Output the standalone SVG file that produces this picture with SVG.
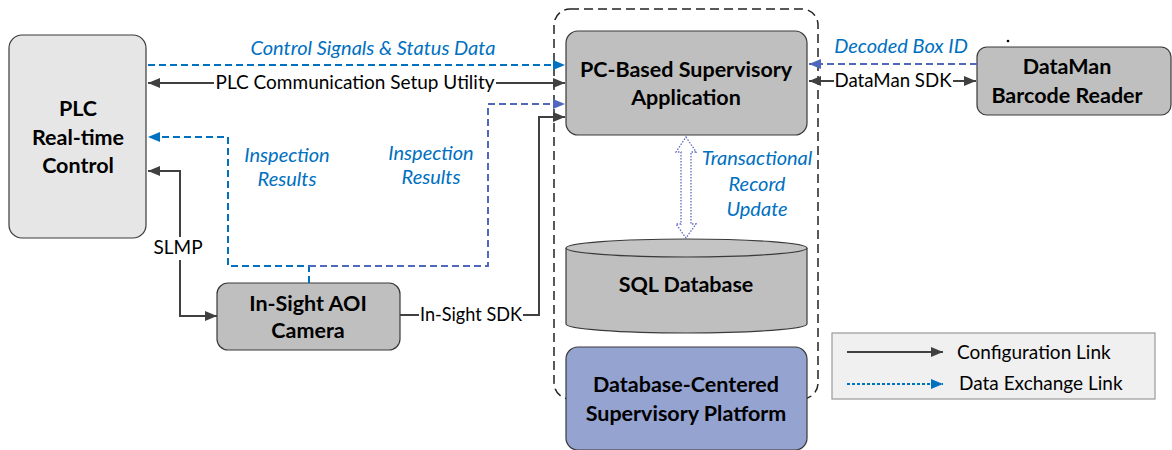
<svg xmlns="http://www.w3.org/2000/svg" width="1172" height="450" viewBox="0 0 1172 450">
<style>
.node{stroke:#3a3a3a;stroke-width:1.2}
.t{font-family:Lato,"Open Sans",sans-serif;font-weight:bold;font-size:21.5px;fill:#000;text-anchor:middle}
.lbl{font-family:Lato,"Open Sans",sans-serif;font-size:19px;fill:#000}
.it{font-family:Lato,"Open Sans",sans-serif;font-style:italic;font-size:20px;fill:#0070c0;text-anchor:middle}
.cfg{stroke:#404040;stroke-width:2;fill:none}
.db{stroke:#0070c0;stroke-width:2;fill:none;stroke-dasharray:7,4}
.dp{stroke:#4f68bb;stroke-width:2;fill:none;stroke-dasharray:7,4}
</style>
<defs>
<marker id="aD" markerUnits="userSpaceOnUse" markerWidth="12" markerHeight="10" refX="12" refY="5" orient="auto-start-reverse"><path d="M0,0 L12,5 L0,10 Z" fill="#404040"/></marker>
<marker id="aB" markerUnits="userSpaceOnUse" markerWidth="12" markerHeight="10" refX="12" refY="5" orient="auto-start-reverse"><path d="M0,0 L12,5 L0,10 Z" fill="#0070c0"/></marker>
<marker id="aP" markerUnits="userSpaceOnUse" markerWidth="12" markerHeight="10" refX="12" refY="5" orient="auto-start-reverse"><path d="M0,0 L12,5 L0,10 Z" fill="#4f68bb"/></marker>
</defs>
<rect width="1172" height="450" fill="#fff"/>

<g id="container">
<rect x="554" y="9" width="264" height="390" rx="16" fill="none" stroke="#222" stroke-width="1.5" stroke-dasharray="9,5"/>
</g>

<g id="plc">
<rect class="node" x="9" y="35" width="137" height="203" rx="13" fill="#e6e6e6"/>
<text class="t" x="78" y="116">PLC</text>
<text class="t" x="78" y="145">Real-time</text>
<text class="t" x="78" y="173">Control</text>
</g>

<g id="camera">
<rect class="node" x="217" y="283" width="183" height="67" rx="11" fill="#bfbfbf"/>
<text class="t" x="308" y="311">In-Sight AOI</text>
<text class="t" x="308" y="338">Camera</text>
</g>

<g id="pcapp">
<rect class="node" x="566" y="31" width="241" height="104" rx="12" fill="#bfbfbf"/>
<text class="t" x="686" y="77">PC-Based Supervisory</text>
<text class="t" x="686" y="105">Application</text>
</g>

<g id="sqldb">
<path class="node" d="M566,248 L566,324 A120.5,9 0 0 0 807,324 L807,248" fill="#bfbfbf"/>
<ellipse class="node" cx="686.5" cy="248" rx="120.5" ry="9" fill="#c4c4c4"/>
<text class="t" x="686" y="292">SQL Database</text>
</g>

<g id="platform">
<rect class="node" x="566" y="347" width="241" height="103" rx="12" fill="#95a3d1"/>
<text class="t" x="686" y="392">Database-Centered</text>
<text class="t" x="686" y="421">Supervisory Platform</text>
</g>

<g id="dataman">
<rect class="node" x="977" y="47" width="194" height="68" rx="10" fill="#bfbfbf"/>
<text class="t" x="1067" y="74">DataMan</text>
<text class="t" x="1067" y="103">Barcode Reader</text>
<circle cx="1008" cy="41" r="1.3" fill="#000"/>
</g>

<g id="connectors">
<!-- Control signals -->
<line class="db" x1="148" y1="65" x2="565" y2="65" marker-end="url(#aB)"/>
<text class="it" x="373" y="55">Control Signals &amp; Status Data</text>
<!-- PLC comm -->
<line class="cfg" x1="148" y1="83" x2="214" y2="83" marker-start="url(#aD)"/>
<line class="cfg" x1="496" y1="83" x2="565" y2="83" marker-end="url(#aD)"/>
<text class="lbl" x="355" y="89" text-anchor="middle" textLength="279" lengthAdjust="spacingAndGlyphs">PLC Communication Setup Utility</text>
<!-- Inspection results -->
<polyline class="db" points="309,283 309,266 228,266 228,137 148,137" marker-end="url(#aB)"/>
<polyline class="dp" points="309,266 488,266 488,104 565,104" marker-end="url(#aP)"/>
<text class="it" x="287" y="162">Inspection</text>
<text class="it" x="287" y="186">Results</text>
<text class="it" x="431" y="160">Inspection</text>
<text class="it" x="431" y="184">Results</text>
<!-- SLMP -->
<polyline class="cfg" points="180,237 180,171 148,171" marker-end="url(#aD)"/>
<polyline class="cfg" points="180,260 180,316 217,316" marker-end="url(#aD)"/>
<text class="lbl" x="178" y="254" text-anchor="middle">SLMP</text>
<!-- In-Sight SDK -->
<line class="cfg" x1="400" y1="315" x2="419" y2="315"/>
<polyline class="cfg" points="523,315 539,315 539,117 565,117" marker-end="url(#aD)"/>
<text class="lbl" x="471" y="321" text-anchor="middle" textLength="102" lengthAdjust="spacingAndGlyphs">In-Sight SDK</text>
<!-- Transactional -->
<polygon points="686,137 696,152 691,152 691,224 696,224 686,238 676,224 681,224 681,152 676,152" fill="#fff" stroke="#5b6bbf" stroke-width="1.3" stroke-dasharray="1.5,1.5"/>
<text class="it" x="757" y="165">Transactional</text>
<text class="it" x="757" y="191">Record</text>
<text class="it" x="757" y="216">Update</text>
<!-- Decoded Box ID -->
<line class="dp" x1="977" y1="64" x2="809" y2="64" marker-end="url(#aP)"/>
<text class="it" x="901" y="53">Decoded Box ID</text>
<!-- DataMan SDK -->
<line class="cfg" x1="809" y1="81" x2="834" y2="81" marker-start="url(#aD)"/>
<line class="cfg" x1="953" y1="81" x2="976" y2="81" marker-end="url(#aD)"/>
<text class="lbl" x="893" y="87" text-anchor="middle" textLength="117" lengthAdjust="spacingAndGlyphs">DataMan SDK</text>
</g>

<g id="legend">
<rect x="832" y="333" width="323" height="66" fill="#f0f0f0" stroke="#999" stroke-width="1.2"/>
<line class="cfg" x1="847" y1="352" x2="943" y2="352" marker-end="url(#aD)"/>
<text class="lbl" x="957" y="359">Configuration Link</text>
<line x1="847" y1="384" x2="943" y2="384" stroke="#0070c0" stroke-width="2" stroke-dasharray="3,2" marker-end="url(#aB)"/>
<text class="lbl" x="959" y="390">Data Exchange Link</text>
</g>
</svg>
